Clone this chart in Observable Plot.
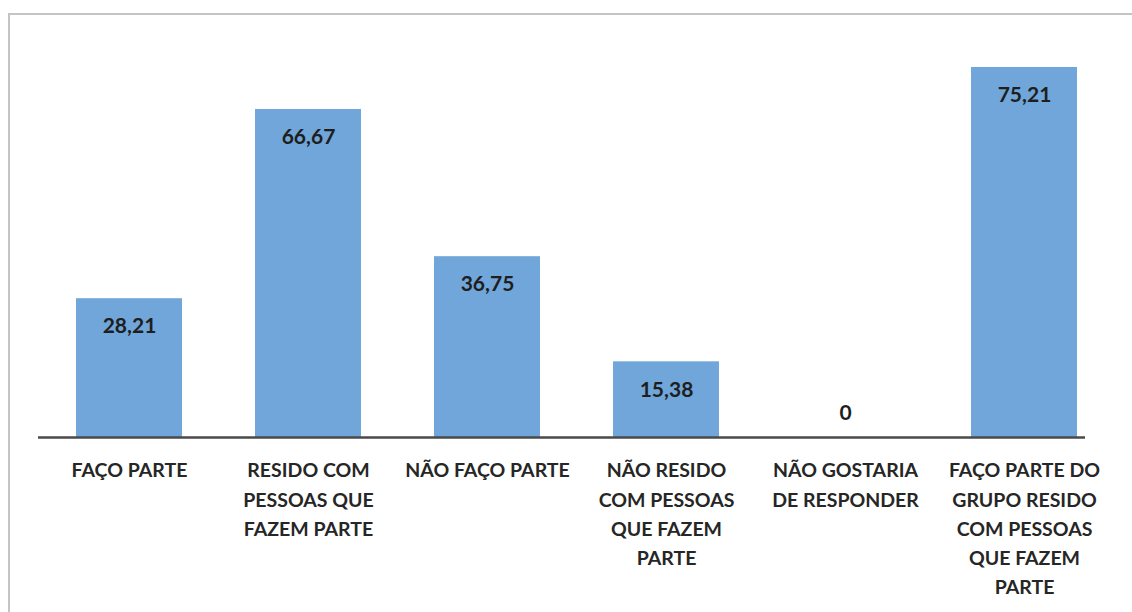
<!DOCTYPE html>
<html>
<head>
<meta charset="utf-8">
<script src="https://cdn.jsdelivr.net/npm/d3@7"></script>
<script src="https://cdn.jsdelivr.net/npm/@observablehq/plot@0.6"></script>
<style>
  html, body { margin: 0; padding: 0; background: #fff; overflow: hidden; }
  #wrap { position: relative; width: 1132px; height: 612px; }
  #frame { position: absolute; left: 8px; top: 13px; width: 2000px; height: 2000px;
           border-top: 2px solid #c4c4c4; border-left: 2px solid #c4c4c4; pointer-events: none; }
  svg { display: block; }
</style>
</head>
<body>
<div id="wrap"><div id="frame"></div></div>
<script>
const categories = ["c1", "c2", "c3", "c4", "c5", "c6"];
const labels = [
  "FAÇO PARTE",
  "RESIDO COM\nPESSOAS QUE\nFAZEM PARTE",
  "NÃO FAÇO PARTE",
  "NÃO RESIDO\nCOM PESSOAS\nQUE FAZEM\nPARTE",
  "NÃO GOSTARIA\nDE RESPONDER",
  "FAÇO PARTE DO\nGRUPO RESIDO\nCOM PESSOAS\nQUE FAZEM\nPARTE"
];
const values = [28.21, 66.67, 36.75, 15.38, 0, 75.21];
const valueText = ["28,21", "66,67", "36,75", "15,38", "0", "75,21"];

const data = categories.map((c, i) => ({cat: c, label: labels[i], value: values[i], text: valueText[i]}));

const font = "Lato, 'Open Sans', sans-serif";

const plot = Plot.plot({
  width: 1132,
  height: 612,
  marginLeft: 38,
  marginRight: 47,
  marginTop: 0,
  marginBottom: 0,
  style: {fontFamily: font, background: "transparent"},
  x: {domain: categories, range: [38.4, 1114], paddingInner: 0.41, paddingOuter: 0.205, axis: null},
  y: {domain: [0, 80], range: [437, 43.4], axis: null},
  marks: [
    Plot.barY(data, {x: "cat", y: "value", fill: "#70a6d9"}),
    Plot.ruleY([0], {stroke: "#4a4a4a", strokeWidth: 2.5}),
    Plot.text(data.filter(d => d.value > 0), {
      x: "cat", y: "value", text: "text", dy: 28,
      fontSize: 21, fontWeight: "bold", fill: "#1e1e1e", lineAnchor: "middle"
    }),
    Plot.text(data.filter(d => d.value === 0), {
      x: "cat", y: "value", text: "text", dy: -24,
      fontSize: 21, fontWeight: "bold", fill: "#1e1e1e", lineAnchor: "middle"
    }),
    Plot.text(data, {
      x: "cat", y: () => 0, text: "label", dy: 19,
      fontSize: 19.5, fontWeight: "bold", fill: "#262626",
      lineAnchor: "top", lineHeight: 1.5
    })
  ]
});
document.getElementById("wrap").prepend(plot);
</script>
</body>
</html>
